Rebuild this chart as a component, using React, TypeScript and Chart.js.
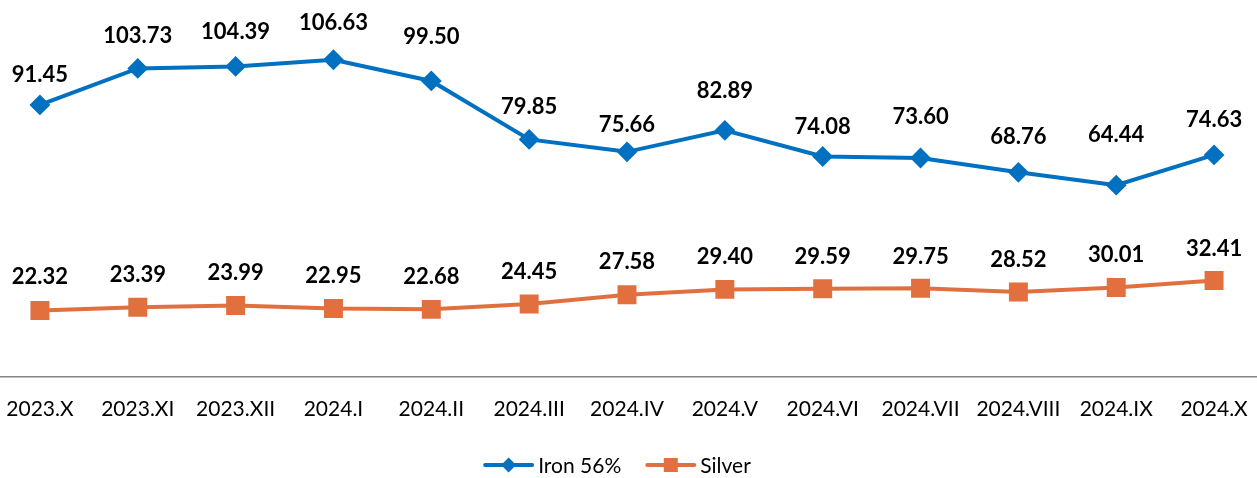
import React, { useEffect, useRef } from "react";
import { Chart, registerables } from "chart.js";

Chart.register(...registerables);

const categories = [
  "2023.X", "2023.XI", "2023.XII", "2024.I", "2024.II", "2024.III", "2024.IV",
  "2024.V", "2024.VI", "2024.VII", "2024.VIII", "2024.IX", "2024.X",
];
const ironValues = [91.45, 103.73, 104.39, 106.63, 99.5, 79.85, 75.66, 82.89, 74.08, 73.6, 68.76, 64.44, 74.63];
const silverValues = [22.32, 23.39, 23.99, 22.95, 22.68, 24.45, 27.58, 29.4, 29.59, 29.75, 28.52, 30.01, 32.41];

// Style: distance (px) from each marker to the centre of its value label
const ironLabelOffsets = [31, 33, 35, 37.5, 45, 33, 28, 40, 30, 41.5, 36, 51, 36];
const silverLabelOffsets = [34, 33, 33, 33, 33, 33, 33.5, 33, 33, 32.7, 32.7, 33, 32.7];

const IRON_COLOR = "#0070C0";
const SILVER_COLOR = "#E2703F";
const FONT = "Lato";
const LABEL_SIZE = 22;

const dataLabelsPlugin = {
  id: "dataLabelsCustom",
  afterDatasetsDraw(chart: any) {
    const ctx = chart.ctx;
    ctx.save();
    ctx.font = `bold ${LABEL_SIZE}px ${FONT}`;
    ctx.fillStyle = "#000";
    ctx.textAlign = "center";
    ctx.textBaseline = "alphabetic";
    const halfDigit = LABEL_SIZE * 0.72 / 2;
    chart.data.datasets.forEach((ds: any, i: number) => {
      const meta = chart.getDatasetMeta(i);
      meta.data.forEach((el: any, j: number) => {
        const v = ds.data[j] as number;
        ctx.fillText(v.toFixed(2), el.x, el.y - ds.labelOffsets[j] + halfDigit);
      });
    });
    ctx.restore();
  },
};

const legendPlugin = {
  id: "lineLegend",
  afterDraw(chart: any) {
    const ctx = chart.ctx;
    const lineLen = 51;
    const gapText = 4;
    const gapItems = 24;
    const y = 465;
    ctx.save();
    ctx.font = `21px ${FONT}`;
    const items = chart.data.datasets.map((ds: any) => ({
      ds,
      w: lineLen + gapText + ctx.measureText(ds.label).width,
    }));
    const total = items.reduce((s: number, it: any) => s + it.w, 0) + gapItems * (items.length - 1);
    const centerX = 617 + 9;
    let x = centerX - total / 2;
    items.forEach((it: any) => {
      const ds = it.ds;
      ctx.strokeStyle = ds.borderColor;
      ctx.lineWidth = 4;
      ctx.lineCap = "round";
      ctx.beginPath();
      ctx.moveTo(x + 2, y);
      ctx.lineTo(x + lineLen - 2, y);
      ctx.stroke();
      ctx.fillStyle = ds.pointBackgroundColor;
      const cx = x + lineLen / 2;
      ctx.beginPath();
      if (ds.pointStyle === "rectRot") {
        const r = 7.5;
        ctx.moveTo(cx - r, y);
        ctx.lineTo(cx, y - r);
        ctx.lineTo(cx + r, y);
        ctx.lineTo(cx, y + r);
        ctx.closePath();
      } else {
        const h = 7;
        ctx.rect(cx - h, y - h, 2 * h, 2 * h);
      }
      ctx.fill();
      ctx.fillStyle = "#000";
      ctx.textAlign = "left";
      ctx.textBaseline = "middle";
      ctx.fillText(ds.label, x + lineLen + gapText, y + 1);
      x += it.w + gapItems;
    });
    ctx.restore();
  },
};

export default function App() {
  const canvasRef = useRef<HTMLCanvasElement | null>(null);

  useEffect(() => {
    const canvas = canvasRef.current;
    if (!canvas) return;
    const chart = new Chart(canvas, {
      type: "line",
      data: {
        labels: categories,
        datasets: [
          {
            label: "Iron 56%",
            data: ironValues,
            borderColor: IRON_COLOR,
            backgroundColor: IRON_COLOR,
            pointBackgroundColor: IRON_COLOR,
            pointBorderColor: IRON_COLOR,
            borderWidth: 4,
            pointStyle: "rectRot",
            pointRadius: 9,
            pointBorderWidth: 2,
            tension: 0,
            labelOffsets: ironLabelOffsets,
          } as any,
          {
            label: "Silver",
            data: silverValues,
            borderColor: SILVER_COLOR,
            backgroundColor: SILVER_COLOR,
            pointBackgroundColor: SILVER_COLOR,
            pointBorderColor: SILVER_COLOR,
            borderWidth: 4,
            pointStyle: "rect",
            pointRadius: 12,
            pointBorderWidth: 2,
            tension: 0,
            labelOffsets: silverLabelOffsets,
          } as any,
        ],
      },
      options: {
        responsive: false,
        animation: false,
        devicePixelRatio: 1,
        layout: { autoPadding: false, padding: { top: 20, bottom: 36, left: 0, right: 0 } },
        plugins: {
          legend: { display: false },
          tooltip: { enabled: false },
        },
        scales: {
          x: {
            offset: true,
            grid: { display: false, drawTicks: false },
            border: { display: true, color: "#868686", width: 1.5 },
            ticks: {
              color: "#000",
              font: { family: FONT, size: 21 },
              padding: 20,
              maxRotation: 0,
              autoSkip: false,
            },
            afterFit: (scale: any) => {
              scale.paddingLeft = 0;
              scale.paddingRight = 0;
            },
          },
          y: {
            display: false,
            min: 0,
            max: 120,
          },
        },
      },
      plugins: [dataLabelsPlugin, legendPlugin],
    });
    return () => chart.destroy();
  }, []);

  return (
    <div
      style={{
        position: "absolute",
        left: 0,
        top: 0,
        width: 1257,
        height: 478,
        overflow: "hidden",
        background: "#fff",
      }}
    >
      <canvas
        ref={canvasRef}
        width={1272}
        height={478}
        style={{ position: "absolute", left: -9, top: 0, width: 1272, height: 478 }}
      />
    </div>
  );
}
